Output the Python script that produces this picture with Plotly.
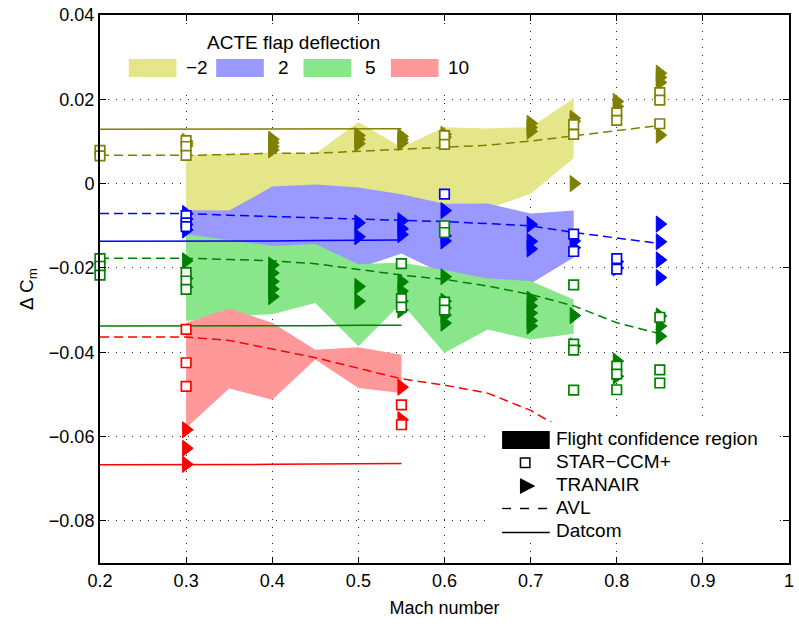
import plotly.graph_objects as go

# ---------------- data ----------------
mach_region = [0.3, 0.35, 0.4, 0.45, 0.5, 0.55, 0.6, 0.65, 0.7, 0.75]
mach_region10 = [0.3, 0.35, 0.4, 0.45, 0.5, 0.55]

flight_m2_upper = [0.0067, 0.0071, 0.0074, 0.0071, 0.0146, 0.0086, 0.0134, 0.0131, 0.0134, 0.0202]
flight_m2_lower = [-0.0075, -0.0075, -0.0020, -0.0015, -0.0020, -0.0035, -0.0060, -0.0060, -0.0024, 0.0060]
flight_p2_upper = [-0.0063, -0.0064, -0.0007, -0.0002, -0.0009, -0.0025, -0.0048, -0.0047, -0.0071, -0.0064]
flight_p2_lower = [-0.0140, -0.0160, -0.0170, -0.0170, -0.0200, -0.0166, -0.0215, -0.0235, -0.0237, -0.0175]
flight_p5_upper = [-0.0120, -0.0134, -0.0148, -0.0143, -0.0191, -0.0187, -0.0205, -0.0225, -0.0231, -0.0275]
flight_p5_lower = [-0.0326, -0.0314, -0.0310, -0.0283, -0.0386, -0.0283, -0.0402, -0.0346, -0.0370, -0.0356]
flight_p10_upper = [-0.0330, -0.0296, -0.0330, -0.0394, -0.0388, -0.0406]
flight_p10_lower = [-0.0580, -0.0486, -0.0513, -0.0417, -0.0485, -0.0497]

mach_avl = [0.2, 0.3, 0.35, 0.4, 0.45, 0.5, 0.55, 0.6, 0.65, 0.7, 0.75, 0.8, 0.85]
avl_m2 = [0.0067, 0.0067, 0.0069, 0.0072, 0.0072, 0.0077, 0.0081, 0.0086, 0.0091, 0.0101, 0.0113, 0.0126, 0.0138]
avl_p2 = [-0.0071, -0.0071, -0.0075, -0.0078, -0.0081, -0.0083, -0.0087, -0.0090, -0.0095, -0.0100, -0.0116, -0.0129, -0.0142]
avl_p5 = [-0.0177, -0.0177, -0.0180, -0.0183, -0.0190, -0.0203, -0.0217, -0.0227, -0.0243, -0.0263, -0.0290, -0.0330, -0.0356]
mach_avl10 = [0.2, 0.3, 0.35, 0.4, 0.45, 0.5, 0.55, 0.6, 0.65, 0.7, 0.725]
avl_p10 = [-0.0364, -0.0364, -0.0372, -0.0393, -0.0413, -0.0438, -0.0463, -0.0478, -0.0497, -0.0538, -0.0568]

mach_datcom = [0.2, 0.3, 0.35, 0.4, 0.45, 0.5, 0.55]
datcom_m2 = [0.0129, 0.0129, 0.0129, 0.0129, 0.0129, 0.0130, 0.0130]
datcom_p2 = [-0.0137, -0.0137, -0.0136, -0.0136, -0.0135, -0.0135, -0.0134]
datcom_p5 = [-0.0338, -0.0338, -0.0337, -0.0337, -0.0337, -0.0336, -0.0336]
datcom_p10 = [-0.0667, -0.0667, -0.0666, -0.0666, -0.0665, -0.0665, -0.0664]

star_m2_mach = [0.2, 0.2, 0.3, 0.3, 0.3, 0.6, 0.6, 0.75, 0.75, 0.8, 0.8, 0.85, 0.85, 0.85]
star_m2 = [0.0079, 0.0066, 0.0102, 0.0088, 0.0067, 0.0114, 0.0093, 0.0140, 0.0117, 0.0168, 0.0150, 0.0216, 0.0198, 0.0142]
tran_m2_mach = [0.3, 0.3, 0.3, 0.4, 0.4, 0.4, 0.4, 0.5, 0.5, 0.5, 0.55, 0.55, 0.55,
                0.6, 0.6, 0.7, 0.7, 0.7, 0.75, 0.75, 0.75, 0.8, 0.8, 0.85, 0.85, 0.85, 0.85]
tran_m2 = [0.0100, 0.0095, 0.0090, 0.0105, 0.0097, 0.0088, 0.0080, 0.0114, 0.0105, 0.0095,
           0.0112, 0.0104, 0.0097, 0.0117, 0.0110, 0.0143, 0.0133, 0.0124, 0.0155, 0.0148,
           0.0000, 0.0195, 0.0183, 0.0262, 0.0252, 0.0240, 0.0115]

star_p2_mach = [0.3, 0.3, 0.3, 0.6, 0.75, 0.75, 0.8, 0.8]
star_p2 = [-0.0076, -0.0093, -0.0102, -0.0025, -0.0120, -0.0161, -0.0178, -0.0203]
tran_p2_mach = [0.3, 0.3, 0.3, 0.3, 0.5, 0.5, 0.55, 0.55, 0.55, 0.6, 0.6, 0.6,
                0.7, 0.7, 0.7, 0.75, 0.75, 0.8, 0.8, 0.85, 0.85, 0.85, 0.85]
tran_p2 = [-0.0071, -0.0084, -0.0097, -0.0110, -0.0093, -0.0126, -0.0088, -0.0107, -0.0121,
           -0.0064, -0.0124, -0.0136, -0.0097, -0.0137, -0.0155, -0.0136, -0.0152,
           -0.0185, -0.0200, -0.0096, -0.0138, -0.0181, -0.0223]

star_p5_mach = [0.2, 0.2, 0.2, 0.3, 0.3, 0.3, 0.55, 0.55, 0.55, 0.6, 0.6, 0.6, 0.6,
                0.75, 0.75, 0.75, 0.75, 0.8, 0.8, 0.8, 0.85, 0.85, 0.85]
star_p5 = [-0.0178, -0.0196, -0.0217, -0.0211, -0.0231, -0.0251, -0.0190, -0.0273, -0.0293,
           -0.0100, -0.0116, -0.0281, -0.0300, -0.0240, -0.0381, -0.0395, -0.0490,
           -0.0433, -0.0452, -0.0489, -0.0317, -0.0442, -0.0473]
tran_p5_mach = [0.3, 0.3, 0.3, 0.4, 0.4, 0.4, 0.4, 0.4, 0.5, 0.5, 0.55, 0.55, 0.55, 0.55,
                0.6, 0.6, 0.6, 0.6, 0.6, 0.7, 0.7, 0.7, 0.7, 0.7, 0.75, 0.75, 0.8, 0.8,
                0.85, 0.85, 0.85]
tran_p5 = [-0.0183, -0.0225, -0.0245, -0.0193, -0.0212, -0.0232, -0.0250, -0.0268,
           -0.0244, -0.0279, -0.0233, -0.0255, -0.0279, -0.0300,
           -0.0221, -0.0279, -0.0295, -0.0312, -0.0331,
           -0.0274, -0.0290, -0.0307, -0.0325, -0.0338, -0.0313, -0.0385,
           -0.0421, -0.0457, -0.0314, -0.0338, -0.0362]

star_p10_mach = [0.3, 0.3, 0.3, 0.55, 0.55]
star_p10 = [-0.0346, -0.0425, -0.0481, -0.0525, -0.0572]
tran_p10_mach = [0.3, 0.3, 0.3, 0.55, 0.55]
tran_p10 = [-0.0584, -0.0628, -0.0666, -0.0483, -0.0560]

deflection_labels = ["\u22122", "2", "5", "10"]
legend_labels = ["Flight confidence region", "STAR\u2212CCM+", "TRANAIR", "AVL", "Datcom"]

# ---------------- styles ----------------
line_colors = ["#808000", "#0000FF", "#008000", "#FF0000"]
fill_colors = ["#E5E58A", "#9999FF", "#8AE68A", "#FF9999"]
FONT = "Liberation Sans, Arial, Helvetica, sans-serif"

fig = go.Figure()

regions = [
    (mach_region, flight_m2_upper, flight_m2_lower),
    (mach_region, flight_p2_upper, flight_p2_lower),
    (mach_region, flight_p5_upper, flight_p5_lower),
    (mach_region10, flight_p10_upper, flight_p10_lower),
]
for (mx, up, lo), fc in zip(regions, fill_colors):
    fig.add_trace(go.Scatter(x=list(mx) + list(mx)[::-1], y=list(up) + list(lo)[::-1],
                             fill="toself", fillcolor=fc, mode="lines",
                             line=dict(width=0, color=fc), hoverinfo="skip",
                             showlegend=False))

avl_sets = [(mach_avl, avl_m2), (mach_avl, avl_p2), (mach_avl, avl_p5), (mach_avl10, avl_p10)]
datcom_sets = [datcom_m2, datcom_p2, datcom_p5, datcom_p10]
for (mx, yv), dc, c in zip(avl_sets, datcom_sets, line_colors):
    fig.add_trace(go.Scatter(x=mx, y=yv, mode="lines",
                             line=dict(color=c, width=1.5, dash="9px,5px"), showlegend=False))
    fig.add_trace(go.Scatter(x=mach_datcom, y=dc, mode="lines",
                             line=dict(color=c, width=1.5), showlegend=False))

tran_sets = [(tran_m2_mach, tran_m2), (tran_p2_mach, tran_p2), (tran_p5_mach, tran_p5), (tran_p10_mach, tran_p10)]
for (mx, yv), c in zip(tran_sets, line_colors):
    fig.add_trace(go.Scatter(x=mx, y=yv, mode="markers", cliponaxis=False,
                             marker=dict(symbol="triangle-right", size=14, color=c,
                                         line=dict(width=1, color=c)), showlegend=False))

star_sets = [(star_m2_mach, star_m2), (star_p2_mach, star_p2), (star_p5_mach, star_p5), (star_p10_mach, star_p10)]
for (mx, yv), c in zip(star_sets, line_colors):
    fig.add_trace(go.Scatter(x=mx, y=yv, mode="markers", cliponaxis=False,
                             marker=dict(symbol="square", size=9.5, color="white",
                                         line=dict(width=1.7, color=c)), showlegend=False))

# ---------------- manual legends (paper coordinates) ----------------
L, R, T, B = 100, 794, 15, 563
def PX(x):
    return (x - L) / (R - L)
def PY(y):
    return (B - y) / (B - T)

shapes = []
annotations = []

# top legend box
shapes.append(dict(type="rect", xref="paper", yref="paper", layer="above",
                   x0=PX(115), x1=PX(500), y0=PY(88), y1=PY(28),
                   fillcolor="white", line=dict(width=0)))
annotations.append(dict(xref="paper", yref="paper", x=PX(295), y=PY(42.5),
                        text="ACTE flap deflection", showarrow=False,
                        xanchor="center", yanchor="middle",
                        font=dict(size=19, color="black", family=FONT)))
patch_x = [129, 217, 305, 393]
label_x = [185, 277, 365, 449]
for px0, lx, fc, lab in zip(patch_x, label_x, fill_colors, deflection_labels):
    shapes.append(dict(type="rect", xref="paper", yref="paper", layer="above",
                       x0=PX(px0), x1=PX(px0 + 48), y0=PY(77), y1=PY(59),
                       fillcolor=fc, line=dict(width=0)))
    annotations.append(dict(xref="paper", yref="paper", x=PX(lx), y=PY(68),
                            text=lab, showarrow=False, xanchor="left", yanchor="middle",
                            font=dict(size=19, color="black", family=FONT)))

# bottom-right legend box
shapes.append(dict(type="rect", xref="paper", yref="paper", layer="above",
                   x0=PX(488), x1=PX(778), y0=PY(541), y1=PY(422),
                   fillcolor="white", line=dict(width=0)))
shapes.append(dict(type="rect", xref="paper", yref="paper", layer="above",
                   x0=PX(505), x1=PX(553), y0=PY(449), y1=PY(431),
                   fillcolor="black", line=dict(width=0)))
shapes.append(dict(type="rect", xref="paper", yref="paper", layer="above",
                   x0=PX(523.5), x1=PX(533), y0=PY(467.5), y1=PY(458),
                   fillcolor="white", line=dict(width=1.5, color="black")))
shapes.append(dict(type="path", xref="paper", yref="paper", layer="above",
                   path="M {:.5f},{:.5f} L {:.5f},{:.5f} L {:.5f},{:.5f} Z".format(
                       PX(523), PY(478), PX(538.5), PY(486), PX(523), PY(494)),
                   fillcolor="black", line=dict(width=0)))
shapes.append(dict(type="line", xref="paper", yref="paper", layer="above",
                   x0=PX(505), x1=PX(553), y0=PY(508.5), y1=PY(508.5),
                   line=dict(color="black", width=1.3, dash="9px,9px")))
shapes.append(dict(type="line", xref="paper", yref="paper", layer="above",
                   x0=PX(505), x1=PX(553), y0=PY(532.5), y1=PY(532.5),
                   line=dict(color="black", width=1.3)))
legend_y = [438.5, 461, 484, 507, 530]
for ly, lab in zip(legend_y, legend_labels):
    annotations.append(dict(xref="paper", yref="paper", x=PX(557), y=PY(ly),
                            text=lab, showarrow=False, xanchor="left", yanchor="middle",
                            font=dict(size=19, color="black", family=FONT)))

axis_common = dict(showline=True, linecolor="black", linewidth=2, mirror="ticks",
                   ticks="inside", ticklen=6, tickwidth=1, tickcolor="black",
                   showgrid=True, gridcolor="#222222", gridwidth=1, griddash="1px,7px",
                   zeroline=False, tickfont=dict(size=18, color="black", family=FONT))

fig.update_layout(
    width=799, height=626,
    margin=dict(l=L, r=799 - R, t=T, b=626 - B),
    paper_bgcolor="white", plot_bgcolor="white",
    font=dict(family=FONT, color="black"),
    showlegend=False,
    shapes=shapes, annotations=annotations,
    xaxis=dict(range=[0.2, 1.0], dtick=0.1, tick0=0.2,
               title=dict(text="Mach number", font=dict(size=18, color="black", family=FONT), standoff=12),
               **axis_common),
    yaxis=dict(range=[-0.09, 0.04], dtick=0.02, tick0=0,
               title=dict(text="\u0394 C<sub>m</sub>", font=dict(size=19, color="black", family=FONT), standoff=10),
               **axis_common),
)

fig.write_html("out.html")
